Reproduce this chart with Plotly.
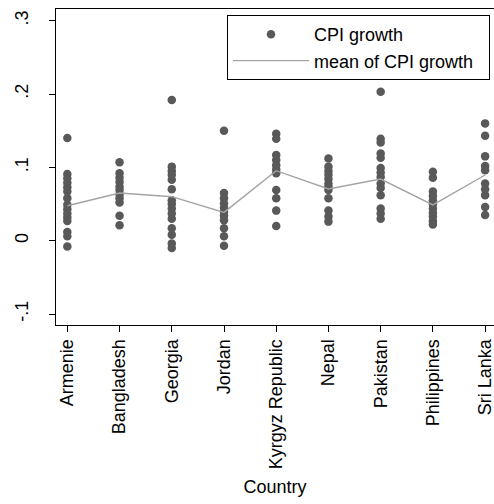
import plotly.graph_objects as go

countries = ["Armenie", "Bangladesh", "Georgia", "Jordan", "Kyrgyz Republic",
             "Nepal", "Pakistan", "Philippines", "Sri Lanka"]

cpi_armenie = [0.140, 0.091, 0.085, 0.079, 0.073, 0.067, 0.058, 0.049, 0.043,
               0.037, 0.032, 0.027, 0.012, 0.006, -0.008]
cpi_bangladesh = [0.107, 0.092, 0.086, 0.080, 0.074, 0.069, 0.063, 0.058, 0.052,
                  0.034, 0.021]
cpi_georgia = [0.192, 0.101, 0.095, 0.090, 0.083, 0.070, 0.055, 0.050, 0.044,
               0.037, 0.030, 0.017, 0.008, -0.004, -0.010]
cpi_jordan = [0.150, 0.065, 0.058, 0.051, 0.045, 0.039, 0.034, 0.028, 0.017,
              0.006, -0.007]
cpi_kyrgyz = [0.146, 0.139, 0.117, 0.110, 0.103, 0.097, 0.092, 0.069, 0.058,
              0.041, 0.020]
cpi_nepal = [0.112, 0.101, 0.095, 0.090, 0.084, 0.078, 0.074, 0.069, 0.058,
             0.041, 0.033, 0.026]
cpi_pakistan = [0.203, 0.139, 0.134, 0.119, 0.113, 0.099, 0.093, 0.087, 0.078,
                0.072, 0.062, 0.044, 0.037, 0.030]
cpi_philippines = [0.094, 0.086, 0.067, 0.061, 0.055, 0.050, 0.044, 0.038,
                   0.033, 0.027, 0.022]
cpi_srilanka = [0.226, 0.160, 0.143, 0.115, 0.102, 0.096, 0.078, 0.070, 0.062,
                0.046, 0.035]

mean_cpi = [0.0477, 0.065, 0.060, 0.0386, 0.0955, 0.0705, 0.084, 0.0487, 0.0896]

series = [cpi_armenie, cpi_bangladesh, cpi_georgia, cpi_jordan, cpi_kyrgyz,
          cpi_nepal, cpi_pakistan, cpi_philippines, cpi_srilanka]

y_tickvals = [-0.1, 0, 0.1, 0.2, 0.3]
y_ticktext = ["-.1", "0", ".1", ".2", ".3"]

xs, ys = [], []
for i, vals in enumerate(series):
    xs += [i] * len(vals)
    ys += vals

FONT = "Liberation Sans, Arial, sans-serif"
PAD = "\u00a0\u00a0"

fig = go.Figure()
fig.add_trace(go.Scatter(
    x=xs, y=ys, mode="markers", name="CPI growth" + PAD,
    marker=dict(color="#595959", size=8.5, line=dict(width=0)),
))
fig.add_trace(go.Scatter(
    x=list(range(len(countries))), y=mean_cpi, mode="lines",
    name="mean of CPI growth" + PAD,
    line=dict(color="#a3a3a3", width=1.4),
))

fig.update_layout(
    width=494, height=504,
    margin=dict(l=56, r=0, t=9, b=179),
    paper_bgcolor="white", plot_bgcolor="white",
    font=dict(family=FONT, size=18, color="black"),
    showlegend=True,
    legend=dict(
        x=(490 - 56) / 438, xref="paper", xanchor="right",
        y=1 - (15 - 9) / 316, yanchor="top",
        bordercolor="black", borderwidth=1, bgcolor="white",
        font=dict(family=FONT, size=18),
        itemwidth=76,
        tracegroupgap=0,
    ),
    xaxis=dict(
        range=[-0.217, 8.17],
        tickmode="array", tickvals=list(range(len(countries))), ticktext=countries,
        tickangle=-90, ticks="outside", ticklen=6, tickcolor="black", tickwidth=1,
        ticklabeloverflow="allow",
        showline=True, linecolor="black", linewidth=1, mirror=True,
        showgrid=False, zeroline=False,
        title=dict(text="Country", font=dict(size=18), standoff=12),
        automargin=False,
    ),
    yaxis=dict(
        range=[-0.115, 0.316],
        tickmode="array", tickvals=y_tickvals, ticktext=y_ticktext,
        tickangle=-90, ticks="outside", ticklen=6, tickcolor="black", tickwidth=1,
        ticklabelstandoff=14,
        showline=True, linecolor="black", linewidth=1, mirror=False,
        showgrid=False, zeroline=False,
        automargin=False,
    ),
)

fig.write_html("out.html")
